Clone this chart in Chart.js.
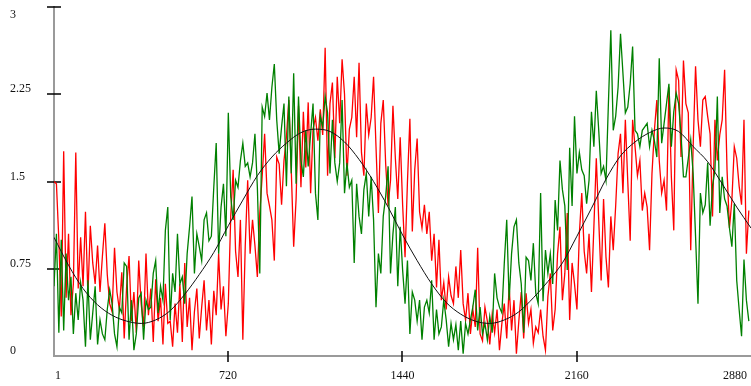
<!DOCTYPE html>
<html>
<head>
<meta charset="utf-8">
<script src="https://cdn.jsdelivr.net/npm/chart.js@4"></script>
<style>
  html, body { margin: 0; padding: 0; background: #fff; }
  #chart { display: block; }
</style>
</head>
<body>
<canvas id="chart" width="751" height="386"></canvas>
<script>
// axis ticks
const xTicks = [1, 720, 1440, 2160, 2880];
const yTicks = [0, 0.75, 1.5, 2.25, 3];

// the two noisy series are sampled every 10 units starting at 1
const sampleStart = 1;
const sampleStep = 10;

const redValues = [
  1.50, 1.48, 1.00, 0.34, 1.76, 0.50, 1.05, 0.35, 0.62, 1.75, 0.58, 1.02, 0.60, 1.24, 0.52, 1.12, 0.80, 0.62, 0.95, 0.55, 0.86, 1.14, 0.70, 0.45,
  0.38, 0.93, 0.55, 0.40, 0.72, 0.15, 0.60, 0.86, 0.30, 0.55, 0.20, 0.82, 0.45, 0.25, 0.88, 0.35, 0.58, 0.12, 0.66, 0.30, 0.50, 0.10, 0.62, 0.28,
  0.30, 0.08, 0.45, 0.20, 0.62, 0.12, 0.80, 0.25, 0.50, 0.05, 0.38, 0.58, 0.15, 0.42, 0.65, 0.22, 0.48, 0.10, 0.56, 0.35, 0.88, 0.40, 0.60, 0.17,
  0.45, 1.20, 1.60, 0.90, 0.68, 1.17, 0.14, 0.95, 1.51, 0.88, 1.17, 0.95, 0.68, 1.23, 1.55, 1.91, 1.40, 1.29, 1.17, 0.82, 1.71, 1.65, 1.30, 1.68,
  1.88, 2.20, 1.60, 0.94, 1.35, 2.15, 1.45, 2.10, 1.62, 2.18, 1.40, 1.95, 2.05, 1.85, 2.12, 1.90, 2.65, 1.55, 2.17, 2.35, 1.70, 2.40, 2.00, 2.55,
  2.25, 1.55, 1.95, 2.05, 2.40, 1.88, 2.52, 1.75, 1.55, 2.17, 1.90, 2.05, 2.40, 1.80, 1.23, 2.00, 2.20, 1.65, 1.29, 1.51, 2.15, 1.70, 1.35, 1.88,
  1.30, 0.85, 1.50, 2.04, 1.07, 1.60, 1.87, 1.24, 1.10, 1.30, 1.05, 1.24, 0.82, 1.05, 0.59, 1.00, 0.48, 0.63, 0.40, 0.68, 0.52, 0.45, 0.77, 0.50,
  0.91, 0.45, 0.31, 0.54, 0.19, 0.40, 0.25, 0.93, 0.19, 0.13, 0.42, 0.30, 0.10, 0.36, 0.20, 0.40, 0.05, 0.28, 0.45, 0.15, 0.60, 0.22, 0.48, 0.02,
  0.30, 0.55, 0.15, 0.54, 0.28, 0.40, 0.11, 0.25, 0.20, 0.40, 0.17, 0.05, 0.51, 0.71, 0.22, 0.40, 0.88, 1.11, 0.48, 0.71, 1.23, 0.31, 0.80, 0.62,
  0.40, 1.05, 1.40, 0.90, 0.71, 1.05, 0.55, 1.11, 1.70, 1.17, 0.65, 1.35, 0.85, 0.59, 1.20, 0.91, 1.29, 1.74, 1.91, 1.40, 2.03, 1.50, 0.99, 2.03,
  1.80, 1.55, 1.68, 1.25, 1.40, 1.28, 0.91, 1.57, 1.94, 2.20, 1.68, 1.40, 1.51, 1.25, 2.31, 1.54, 1.08, 2.46, 2.37, 1.71, 2.54, 2.17, 2.09, 0.91,
  1.80, 2.49, 2.03, 1.80, 2.20, 2.23, 2.06, 1.91, 1.20, 2.03, 1.68, 1.90, 2.03, 2.46, 1.60, 1.10, 1.34, 1.80, 1.70, 1.46, 1.30, 2.03, 0.88, 1.25
];

const greenValues = [
  0.60, 1.05, 0.20, 1.00, 0.22, 0.88, 0.48, 0.68, 0.19, 0.54, 0.31, 0.63, 0.48, 0.08, 0.65, 0.14, 0.37, 0.60, 0.10, 0.31, 0.19, 0.14, 0.40, 0.57,
  0.45, 0.19, 0.08, 0.42, 0.37, 0.80, 0.77, 0.14, 0.48, 0.05, 0.19, 0.50, 0.54, 0.14, 0.48, 0.40, 0.42, 0.71, 0.82, 0.37, 0.60, 0.48, 1.08, 1.28,
  0.31, 0.71, 0.55, 1.05, 0.62, 0.68, 0.45, 0.88, 1.11, 1.37, 0.71, 1.05, 0.94, 0.82, 1.17, 1.23, 0.99, 1.03, 1.45, 1.83, 0.88, 1.28, 1.48, 1.03,
  2.09, 1.37, 1.17, 1.51, 1.45, 1.68, 1.83, 1.63, 1.66, 1.54, 1.66, 1.91, 1.45, 0.71, 2.14, 2.06, 2.26, 2.03, 2.31, 2.51, 2.03, 1.74, 1.97, 2.17,
  1.46, 2.23, 1.57, 2.43, 1.48, 2.23, 1.68, 1.54, 1.94, 1.63, 1.91, 2.17, 1.40, 1.17, 2.06, 1.97, 2.23, 2.09, 1.57, 2.03, 1.66, 1.50, 1.66, 2.20,
  1.40, 1.66, 1.45, 1.51, 0.80, 1.48, 1.20, 1.05, 1.43, 1.57, 1.20, 1.54, 1.17, 0.42, 0.88, 0.71, 1.20, 1.37, 1.63, 0.71, 1.05, 1.28, 0.60, 1.11,
  0.74, 0.45, 0.82, 0.19, 0.55, 0.48, 0.30, 0.48, 0.14, 0.42, 0.48, 0.37, 0.65, 0.14, 0.40, 0.19, 0.25, 0.48, 0.31, 0.08, 0.28, 0.14, 0.27, 0.05,
  0.30, 0.02, 0.28, 0.19, 0.31, 0.42, 0.57, 0.22, 0.42, 0.19, 0.28, 0.14, 0.34, 0.20, 0.71, 0.50, 0.42, 0.37, 0.80, 1.17, 0.48, 0.88, 1.11, 1.17,
  0.80, 0.62, 0.20, 0.85, 0.82, 0.65, 0.97, 0.54, 0.45, 1.40, 0.47, 0.91, 0.71, 0.88, 0.62, 1.34, 1.08, 1.68, 1.43, 1.29, 0.74, 1.79, 1.29, 2.06,
  1.57, 1.75, 1.60, 1.55, 1.31, 1.51, 2.10, 1.80, 2.28, 1.94, 1.57, 1.63, 1.51, 2.17, 2.80, 1.94, 2.06, 2.31, 2.77, 2.43, 2.09, 2.14, 2.34, 2.66,
  1.94, 1.91, 1.80, 1.94, 1.97, 2.00, 1.80, 1.94, 1.85, 1.71, 2.56, 1.83, 2.00, 2.17, 2.34, 1.80, 2.10, 2.26, 2.17, 1.90, 1.54, 1.54, 1.70, 1.86,
  1.57, 1.03, 0.45, 1.40, 1.23, 1.30, 1.66, 1.12, 1.46, 1.60, 2.23, 1.23, 1.54, 1.35, 1.29, 1.10, 0.94, 1.31, 0.65, 0.40, 0.17, 0.83, 0.48, 0.30
];

// smooth black trend line, read at every 60 units
const trendX = [
  1, 61, 121, 181, 241, 301, 361, 421, 481, 541, 601, 661, 721, 781, 841, 901, 961,
  1021, 1081, 1141, 1201, 1261, 1321, 1381, 1441, 1501, 1561, 1621, 1681, 1741, 1801,
  1861, 1921, 1981, 2041, 2101, 2161, 2221, 2281, 2341, 2401, 2461, 2521, 2581, 2641,
  2701, 2761, 2821, 2880
];
const trendValues = [
  1.02, 0.78, 0.58, 0.44, 0.35, 0.30, 0.28, 0.31, 0.39, 0.53, 0.70, 0.89, 1.12, 1.34, 1.55, 1.71, 1.83,
  1.92, 1.95, 1.93, 1.84, 1.69, 1.50, 1.28, 1.04, 0.82, 0.62, 0.46, 0.36, 0.30, 0.28,
  0.31, 0.38, 0.50, 0.64, 0.80, 1.03, 1.27, 1.52, 1.72, 1.84, 1.92, 1.96, 1.93, 1.80,
  1.67, 1.48, 1.28, 1.10
];

const sampled = vals => vals.map((v, i) => ({ x: sampleStart + i * sampleStep, y: v }));
const trendPoints = trendX.map((x, i) => ({ x: x, y: trendValues[i] }));

const labelFont = '12px "Liberation Serif", "Times New Roman", serif';

// draws the gray axis lines, black tick marks and the tick labels
const axesPlugin = {
  id: 'axes',
  beforeDatasetsDraw(chart) {
    const { ctx, chartArea: a, scales: { x, y } } = chart;
    ctx.save();

    ctx.strokeStyle = '#9a9a9a';
    ctx.lineWidth = 2;
    ctx.beginPath();
    ctx.moveTo(a.left, a.top - 1);
    ctx.lineTo(a.left, a.bottom);
    ctx.lineTo(a.right, a.bottom);
    ctx.stroke();

    // tick marks; the first and last x ticks sit on the chart edges and are not drawn
    ctx.strokeStyle = '#000';
    ctx.lineWidth = 1.5;
    ctx.beginPath();
    yTicks.forEach(v => {
      if (v === 0) return;
      const py = Math.round(y.getPixelForValue(v));
      ctx.moveTo(a.left - 7, py);
      ctx.lineTo(a.left + 7, py);
    });
    xTicks.forEach((v, i) => {
      if (i === 0 || i === xTicks.length - 1) return;
      const px = Math.round(x.getPixelForValue(v));
      ctx.moveTo(px, a.bottom - 5);
      ctx.lineTo(px, a.bottom + 6);
    });
    ctx.stroke();

    ctx.fillStyle = '#111';
    ctx.font = labelFont;
    ctx.textBaseline = 'middle';
    ctx.textAlign = 'left';
    yTicks.forEach(v => {
      let py = y.getPixelForValue(v) - 5;
      if (py < a.top + 4) py = y.getPixelForValue(v) + 8;
      ctx.fillText(String(v), 10, py);
    });

    xTicks.forEach((v, i) => {
      const px = x.getPixelForValue(v);
      if (i === 0) {
        ctx.textAlign = 'left';
        ctx.fillText(String(v), px + 1, a.bottom + 20);
      } else if (i === xTicks.length - 1) {
        ctx.textAlign = 'right';
        ctx.fillText(String(v), px - 4, a.bottom + 20);
      } else {
        ctx.textAlign = 'center';
        ctx.fillText(String(v), px, a.bottom + 20);
      }
    });
    ctx.restore();
  }
};

new Chart(document.getElementById('chart'), {
  type: 'line',
  data: {
    datasets: [
      {
        data: trendPoints,
        borderColor: '#111',
        borderWidth: 1,
        pointRadius: 0,
        cubicInterpolationMode: 'monotone',
        order: 0
      },
      {
        data: sampled(greenValues),
        borderColor: '#008000',
        borderWidth: 1.3,
        pointRadius: 0,
        tension: 0,
        order: 1
      },
      {
        data: sampled(redValues),
        borderColor: '#ff0000',
        borderWidth: 1.3,
        pointRadius: 0,
        tension: 0,
        order: 2
      }
    ]
  },
  options: {
    responsive: false,
    devicePixelRatio: 1,
    animation: false,
    layout: { padding: { left: 54, right: 0, top: 7, bottom: 30 } },
    plugins: { legend: { display: false }, tooltip: { enabled: false } },
    scales: {
      x: { type: 'linear', min: 1, max: 2880, display: false },
      y: { min: 0, max: 3, display: false }
    }
  },
  plugins: [axesPlugin]
});
</script>
</body>
</html>
